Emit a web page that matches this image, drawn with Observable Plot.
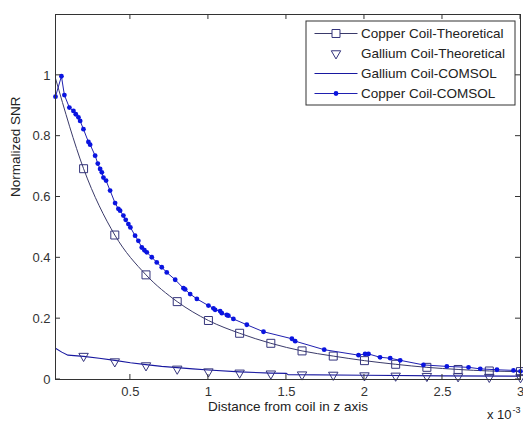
<!DOCTYPE html>
<html><head><meta charset="utf-8">
<script src="https://cdn.jsdelivr.net/npm/d3@7"></script>
<script src="https://cdn.jsdelivr.net/npm/@observablehq/plot@0.6"></script>
<style>body{margin:0;background:#fff} #chart{width:523px;height:422px}</style>
</head><body><div id="chart"></div>
<script>
const seriesNames = ["Copper Coil-Theoretical", "Gallium Coil-Theoretical", "Gallium Coil-COMSOL", "Copper Coil-COMSOL"];
const xTicks = [0.5, 1, 1.5, 2, 2.5, 3];
const yTicks = [0, 0.2, 0.4, 0.6, 0.8, 1];
const xTitle = "Distance from coil in z axis";
const yTitle = "Normalized SNR";

// Copper theoretical: line and square markers
const copperTheoLineX = [0.02, 0.2, 0.4, 0.6, 0.8, 1.0, 1.2, 1.4, 1.6, 1.8, 2.0, 2.2, 2.4, 2.6, 2.8, 3.0];
const copperTheoLineY = [0.99, 0.693, 0.475, 0.344, 0.256, 0.194, 0.152, 0.119, 0.094, 0.077, 0.062, 0.050, 0.040, 0.033, 0.028, 0.026];
const copperTheoMarkX = [0.2, 0.4, 0.6, 0.8, 1.0, 1.2, 1.4, 1.6, 1.8, 2.0, 2.2, 2.4, 2.6, 2.8, 3.0];
const copperTheoMarkY = [0.693, 0.475, 0.344, 0.256, 0.194, 0.152, 0.119, 0.094, 0.077, 0.062, 0.050, 0.040, 0.033, 0.028, 0.026];

// Gallium theoretical: triangle markers only
const galliumTheoX = [0.2, 0.4, 0.6, 0.8, 1.0, 1.2, 1.4, 1.6, 1.8, 2.0, 2.2, 2.4, 2.6, 2.8, 3.0];
const galliumTheoY = [0.077, 0.059, 0.046, 0.035, 0.026, 0.022, 0.019, 0.016, 0.015, 0.013, 0.012, 0.011, 0.010, 0.008, 0.007];

// Gallium COMSOL: line only
const galliumComsolX = [0.02, 0.06, 0.1, 0.2, 0.3, 0.4, 0.5, 0.6, 0.7, 0.8, 0.9, 1.0, 1.2, 1.4, 1.5, 1.51, 2.0, 2.5, 3.0];
const galliumComsolY = [0.103, 0.090, 0.080, 0.076, 0.070, 0.063, 0.055, 0.049, 0.043, 0.039, 0.035, 0.031, 0.025, 0.021, 0.020, 0.016, 0.014, 0.012, 0.011];

// Copper COMSOL: line with dots
const copperComsolX = [0.02, 0.058, 0.077, 0.109, 0.135, 0.150, 0.167, 0.178, 0.199, 0.231, 0.242, 0.274, 0.291, 0.306, 0.317, 0.327, 0.344, 0.370, 0.402, 0.423, 0.434, 0.455, 0.470, 0.487, 0.500, 0.530, 0.551, 0.573, 0.590, 0.605, 0.637, 0.669, 0.701, 0.733, 0.787, 0.840, 0.851, 0.883, 0.926, 1.000, 1.032, 1.043, 1.075, 1.086, 1.118, 1.128, 1.160, 1.246, 1.353, 1.535, 1.556, 1.742, 1.962, 2.004, 2.026, 2.100, 2.165, 2.229, 2.378, 2.528, 2.667, 2.742, 2.849, 2.955, 3.000];
const copperComsolY = [0.930, 0.997, 0.935, 0.894, 0.883, 0.872, 0.862, 0.850, 0.823, 0.781, 0.772, 0.736, 0.710, 0.692, 0.681, 0.664, 0.654, 0.621, 0.580, 0.561, 0.555, 0.539, 0.525, 0.511, 0.500, 0.473, 0.456, 0.434, 0.425, 0.418, 0.402, 0.385, 0.369, 0.352, 0.328, 0.300, 0.296, 0.281, 0.265, 0.243, 0.234, 0.229, 0.225, 0.218, 0.212, 0.210, 0.199, 0.180, 0.157, 0.134, 0.126, 0.098, 0.080, 0.084, 0.084, 0.073, 0.070, 0.063, 0.048, 0.043, 0.040, 0.035, 0.032, 0.030, 0.027];

const zip = (xs, ys) => xs.map((x, i) => ({x, y: ys[i]}));
const copperTheoLine = zip(copperTheoLineX, copperTheoLineY);
const copperTheoMarks = zip(copperTheoMarkX, copperTheoMarkY);
const galliumTheo = zip(galliumTheoX, galliumTheoY);
const galliumComsol = zip(galliumComsolX, galliumComsolY);
const copperComsol = zip(copperComsolX, copperComsolY);

const C_SQ = "#34347c", C_TRI = "#34347c", C_GLINE = "#1818a0", C_CLINE = "#2020b0", C_DOT = "#0a14e0", C_THEO = "#3a3a6a";
const AX = "#333";

function boxTicks(index, scales, values, dims) {
  const {x, y} = scales;
  const L = dims.marginLeft, R = dims.width - dims.marginRight;
  const T = dims.marginTop, B = dims.height - dims.marginBottom;
  const g = d3.create("svg:g").attr("stroke", AX).attr("fill", "none");
  for (const t of xTicks) {
    const px = x(t);
    g.append("line").attr("x1", px).attr("x2", px).attr("y1", B).attr("y2", B - 5);
    g.append("line").attr("x1", px).attr("x2", px).attr("y1", T).attr("y2", T + 5);
  }
  for (const t of yTicks) {
    const py = y(t);
    g.append("line").attr("y1", py).attr("y2", py).attr("x1", L).attr("x2", L + 5);
    g.append("line").attr("y1", py).attr("y2", py).attr("x1", R).attr("x2", R - 5);
  }
  return g.node();
}

function legend(index, scales, values, dims) {
  const R = dims.width - dims.marginRight - 5;
  const T = dims.marginTop + 7;
  const W = 209, H = 84;
  const X0 = R - W;
  const g = d3.create("svg:g");
  g.append("rect").attr("x", X0).attr("y", T).attr("width", W).attr("height", H)
    .attr("fill", "white").attr("stroke", AX);
  seriesNames.forEach((name, i) => {
    const cy = T + 12.5 + i * 20;
    const x0 = X0 + 8.5, x1 = x0 + 43, xm = (x0 + x1) / 2;
    if (i === 0) {
      g.append("line").attr("x1", x0).attr("x2", x1).attr("y1", cy).attr("y2", cy).attr("stroke", C_THEO);
      g.append("path").attr("d", d3.symbol(d3.symbolSquare, 4.5 * 4.5 * Math.PI)()).attr("transform", `translate(${xm},${cy})`)
        .attr("fill", "white").attr("stroke", C_SQ);
    } else if (i === 1) {
      g.append("path").attr("d", d3.symbol(d3.symbolTriangle, 3.5 * 3.5 * Math.PI)()).attr("transform", `translate(${xm},${cy}) rotate(180)`)
        .attr("fill", "none").attr("stroke", C_TRI);
    } else if (i === 2) {
      g.append("line").attr("x1", x0).attr("x2", x1).attr("y1", cy).attr("y2", cy).attr("stroke", C_GLINE);
    } else {
      g.append("line").attr("x1", x0).attr("x2", x1).attr("y1", cy).attr("y2", cy).attr("stroke", C_CLINE);
      g.append("circle").attr("cx", xm).attr("cy", cy).attr("r", 2.4).attr("fill", C_DOT);
    }
    g.append("text").attr("x", X0 + 55).attr("y", cy).attr("dy", "0.35em")
      .attr("text-anchor", "start")
      .attr("fill", "#222").attr("font-size", 13.5).text(name);
  });
  return g.node();
}

const plot = Plot.plot({
  width: 523,
  height: 422,
  marginLeft: 55,
  marginRight: 3,
  marginTop: 14,
  marginBottom: 43,
  style: {fontFamily: "'Liberation Sans', Arial, sans-serif", fontSize: "13px", color: AX, background: "white"},
  x: {domain: [0.02, 3], ticks: xTicks, tickSize: 0, tickPadding: 7, tickFormat: d => String(d), label: null},
  y: {domain: [0, 1.2], ticks: yTicks, tickSize: 0, tickPadding: 5, tickFormat: d => String(d), label: null},
  marks: [
    Plot.line(galliumComsol, {x: "x", y: "y", stroke: C_GLINE, strokeWidth: 1.1}),
    Plot.dot(galliumTheo, {x: "x", y: "y", symbol: "triangle", rotate: 180, r: 3.5, stroke: C_TRI, strokeWidth: 1, fill: "none"}),
    Plot.line(copperTheoLine, {x: "x", y: "y", stroke: C_THEO, strokeWidth: 1, curve: "monotone-x"}),
    Plot.dot(copperTheoMarks, {x: "x", y: "y", symbol: "square", r: 4.5, stroke: C_SQ, strokeWidth: 1, fill: "none"}),
    Plot.line(copperComsol, {x: "x", y: "y", stroke: C_CLINE, strokeWidth: 1}),
    Plot.dot(copperComsol, {x: "x", y: "y", r: 2.4, fill: C_DOT, stroke: "none"}),
    Plot.frame({stroke: AX}),
    boxTicks,
    legend,
    Plot.text([yTitle], {frameAnchor: "left", rotate: -90, dx: -40, fontSize: 13.5, fill: "#222"}),
    Plot.text([xTitle], {frameAnchor: "bottom", dy: 31, fontSize: 13.5, fill: "#222"}),
    Plot.text(["x 10"], {frameAnchor: "bottom-right", textAnchor: "end", dx: -9, dy: 39, fontSize: 13, fill: "#222"}),
    Plot.text(["-3"], {frameAnchor: "bottom-right", textAnchor: "start", dx: -8, dy: 33, fontSize: 9, fill: "#222"})
  ]
});
document.getElementById("chart").appendChild(plot);
</script>
</body></html>
